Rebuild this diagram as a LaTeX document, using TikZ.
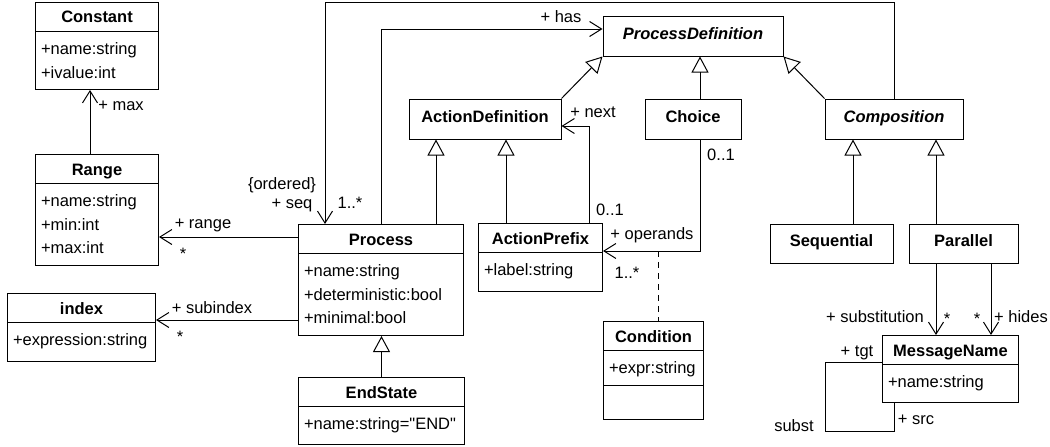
\documentclass[tikz,border=0pt]{standalone}
\usepackage{fontspec}
\setmainfont{Liberation Sans}
\usetikzlibrary{arrows.meta}
\tikzset{
  classbox/.style={draw, inner sep=0pt, anchor=north west},
  classtitle/.style={anchor=base, inner sep=0pt, font=\bfseries},
  classattr/.style={anchor=base west, inner sep=0pt},
  plainbox/.style={draw, inner sep=0pt, minimum height=40pt, text height=12pt, text depth=6pt, font=\bfseries},
  lbl/.style={inner sep=0pt, text height=10pt, text depth=0pt},
  assoc/.style={-{Straight Barb[length=12pt, width=15pt]}},
  gen/.style={-{Triangle[open, length=16pt, width=17pt]}}
}
% name, x, y (north west), width, height, title, attributes
\newcommand{\umlclass}[7]{%
  \node[classbox, minimum width=#4pt, minimum height=#5pt] (#1) at (#2,#3) {};
  \draw ([yshift=-29pt]#1.north west) -- ([yshift=-29pt]#1.north east);
  \node[classtitle] (#1-title) at ([yshift=-21pt]#1.north) {#6};
  \foreach \a [count=\i] in {#7}
    \node[classattr] (#1-attr\i) at ([xshift=5.5pt, yshift={-52.5pt-(\i-1)*23.5pt}]#1.north west) {\a};
}
\begin{document}
\fontsize{16.5}{23.5}\selectfont
\begin{tikzpicture}[x=1pt, y=-1pt, line width=1pt]
  \useasboundingbox (0,0) rectangle (1050,447);
  % classes with compartments
  \umlclass{constant}{35}{2}{123}{87}{Constant}{+name:string,+ivalue:int}
  \umlclass{range}{35}{154}{123}{111}{Range}{+name:string,+min:int,+max:int}
  \umlclass{index}{7}{293}{148}{68}{index}{+expression:string}
  \umlclass{process}{298}{224}{165}{111}{Process}{+name:string,+deterministic:bool,+minimal:bool}
  \umlclass{endstate}{298}{377}{166}{67}{EndState}{+name:string=\textquotedbl END\textquotedbl}
  \umlclass{actprefix}{478}{223}{124}{68}{ActionPrefix}{+label:string}
  \umlclass{condition}{603}{321}{100}{98}{Condition}{+expr:string}
  \draw ([yshift=-64pt]condition.north west) -- ([yshift=-64pt]condition.north east);
  \umlclass{msgname}{882}{335}{136}{67}{MessageName}{+name:string}
  % classes without attributes
  \node[plainbox, minimum width=180pt, font=\bfseries\itshape] (procdef) at (693,36) {ProcessDefinition};
  \node[plainbox, minimum width=152pt] (actdef) at (485,119) {ActionDefinition};
  \node[plainbox, minimum width=96pt] (choice) at (693,119) {Choice};
  \node[plainbox, minimum width=138pt, font=\bfseries\itshape] (composition) at (894,119) {Composition};
  \node[plainbox, minimum width=123pt, minimum height=39pt] (sequential) at (831.5,243.5) {Sequential};
  \node[plainbox, minimum width=109pt, minimum height=39pt] (parallel) at (963.5,243.5) {Parallel};
  % generalizations
  \draw[gen] (actdef.north east) -- (procdef.south west);
  \draw[gen] (700,0 |- choice.north) -- (700,0 |- procdef.south);
  \draw[gen] (composition.north west) -- (procdef.south east);
  \draw[gen] (436,0 |- process.north) -- (436,0 |- actdef.south);
  \draw[gen] (506,0 |- actprefix.north) -- (506,0 |- actdef.south);
  \draw[gen] (853,0 |- sequential.north) -- (853,0 |- composition.south);
  \draw[gen] (936,0 |- parallel.north) -- (936,0 |- composition.south);
  \draw[gen] (endstate.north) -- (endstate.north |- process.south);
  % associations
  \coordinate (seqcorner) at (325,2);
  \draw[assoc] (composition.north) |- (seqcorner) -- (seqcorner |- process.north);
  \draw[assoc] (process.north) |- (procdef.west |- 0,29);
  \draw[assoc] (589,0 |- actprefix.north) |- (actdef.east |- 0,126);
  \draw[assoc] (700,0 |- choice.south) |- (actprefix.east |- 0,251);
  \coordinate (opnd) at (658,251);
  \draw[dashed, dash pattern=on 6pt off 5pt] (opnd) -- (opnd |- condition.north);
  \draw[assoc] (process.west |- 0,237) -- (range.east |- 0,237);
  \draw[assoc] (process.west |- 0,320) -- (index.east |- 0,320);
  \draw[assoc] (90,0 |- range.north) -- (90,0 |- constant.south);
  \draw[assoc] (936,0 |- parallel.south) -- (936,0 |- msgname.north);
  \draw[assoc] (991,0 |- parallel.south) -- (991,0 |- msgname.north);
  \coordinate (loop) at (825,431);
  \draw (msgname.west |- 0,362) -| (loop) -| (894,0 |- msgname.south);
  % role names and multiplicities
  \node[lbl] (ordered) at (282,184) {\{ordered\}};
  \node[lbl] (seq) at (292,203) {+ seq};
  \node[lbl] (seqmult) at (350,203) {1..*};
  \node[lbl] (has) at (561,18) {+ has};
  \node[lbl] (next) at (593,112) {+ next};
  \node[lbl] (nextmult) at (610,210) {0..1};
  \node[lbl] (choicemult) at (721,155) {0..1};
  \node[lbl] (operands) at (652,234) {+ operands};
  \node[lbl] (opmult) at (627,273) {1..*};
  \node[lbl] (rangerole) at (203,223) {+ range};
  \node[lbl] (rangemult) at (183,254.5) {*};
  \node[lbl] (subindex) at (212,308) {+ subindex};
  \node[lbl] (submult) at (180,337.5) {*};
  \node[lbl] (max) at (121,105) {+ max};
  \node[lbl] (substitution) at (875,317) {+ substitution};
  \node[lbl] (substmult) at (947,319.5) {*};
  \node[lbl] (hidesmult) at (977,319.5) {*};
  \node[lbl] (hides) at (1021,317) {+ hides};
  \node[lbl] (tgt) at (857,351) {+ tgt};
  \node[lbl] (subst) at (794,426) {subst};
  \node[lbl] (src) at (916,419) {+ src};
\end{tikzpicture}
\end{document}
